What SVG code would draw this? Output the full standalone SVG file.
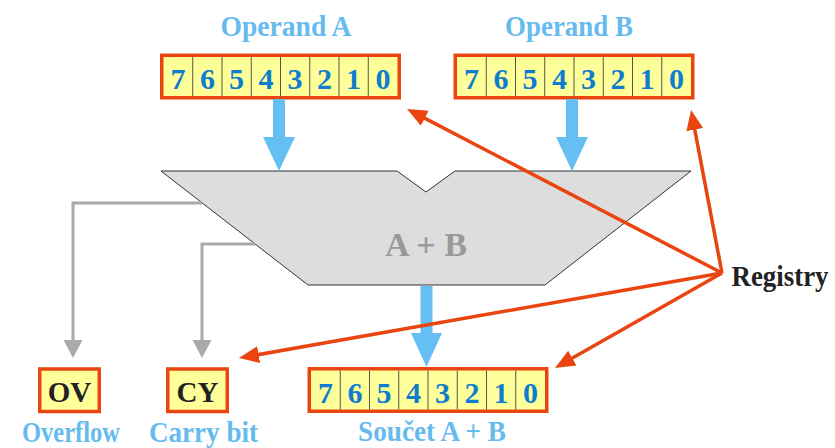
<svg xmlns="http://www.w3.org/2000/svg" width="835" height="448" viewBox="0 0 835 448">
  <style>
    .reg { fill: #FFFF99; stroke: #EA4410; stroke-width: 3.5; }
    .div { stroke: #555544; stroke-width: 1; }
    .bit { font-family: "Liberation Serif", "Times New Roman", serif; font-weight: bold; font-size: 30px; fill: #0F7DCF; text-anchor: middle; }
    .title { font-family: "Liberation Serif", "Times New Roman", serif; font-weight: bold; font-size: 29px; fill: #66BBEE; text-anchor: middle; }
    .flag { font-family: "Liberation Serif", "Times New Roman", serif; font-weight: bold; font-size: 29px; fill: #222222; text-anchor: middle; }
    .alu { fill: #DDDDDD; stroke: #333333; stroke-width: 1; }
    .alutext { font-family: "Liberation Serif", "Times New Roman", serif; font-weight: bold; font-size: 34px; fill: #999999; text-anchor: middle; }
    .bus { fill: #66BFF2; }
    .gray { fill: none; stroke: #AAAAAA; stroke-width: 3; }
    .grayhead { fill: #AAAAAA; }
    .red { stroke: #EA4410; stroke-width: 3.5; fill: none; marker-end: url(#redArrow); }
  </style>
  <defs>
    <marker id="redArrow" markerUnits="userSpaceOnUse" viewBox="0 0 20 20" markerWidth="20" markerHeight="20" refX="10" refY="10" orient="auto">
      <path d="M0,1.5 L20,10 L0,18.5 z" fill="#EA4410"/>
    </marker>
    <!-- 8-bit register: cells 7..0, 29.25 wide each -->
    <g id="bits">
      <rect class="reg" x="-1.75" y="-1.75" width="237.5" height="42.5"/>
      <g class="div">
        <line x1="29.25" y1="0" x2="29.25" y2="39"/>
        <line x1="58.5" y1="0" x2="58.5" y2="39"/>
        <line x1="87.75" y1="0" x2="87.75" y2="39"/>
        <line x1="117" y1="0" x2="117" y2="39"/>
        <line x1="146.25" y1="0" x2="146.25" y2="39"/>
        <line x1="175.5" y1="0" x2="175.5" y2="39"/>
        <line x1="204.75" y1="0" x2="204.75" y2="39"/>
      </g>
      <text class="bit" x="14.6" y="32">7</text>
      <text class="bit" x="43.9" y="32">6</text>
      <text class="bit" x="73.1" y="32">5</text>
      <text class="bit" x="102.4" y="32">4</text>
      <text class="bit" x="131.6" y="32">3</text>
      <text class="bit" x="160.9" y="32">2</text>
      <text class="bit" x="190.1" y="32">1</text>
      <text class="bit" x="219.4" y="32">0</text>
    </g>
  </defs>

  <!-- Operand A register -->
  <g id="operandA">
    <text class="title" x="286" y="36" textLength="131" lengthAdjust="spacingAndGlyphs">Operand A</text>
    <use href="#bits" x="163.5" y="57"/>
  </g>

  <!-- Operand B register -->
  <g id="operandB">
    <text class="title" x="569" y="36" textLength="128" lengthAdjust="spacingAndGlyphs">Operand B</text>
    <use href="#bits" x="457" y="57"/>
  </g>

  <!-- Adder -->
  <g id="adder">
    <polygon class="alu" points="161,171 397,171 426,192 455,171 691,171 545,285 308,285"/>
    <text class="alutext" x="426" y="256" textLength="82" lengthAdjust="spacingAndGlyphs">A + B</text>
  </g>

  <!-- Result register -->
  <g id="result">
    <use href="#bits" x="311" y="370.5"/>
    <text class="title" x="432" y="441" textLength="148" lengthAdjust="spacingAndGlyphs">Součet A + B</text>
  </g>

  <!-- Overflow flag -->
  <g id="overflow">
    <rect class="reg" x="39.75" y="369" width="59.5" height="42.5"/>
    <text class="flag" x="69.5" y="401.5">OV</text>
    <text class="title" x="71" y="441.5" textLength="98" lengthAdjust="spacingAndGlyphs">Overflow</text>
  </g>

  <!-- Carry flag -->
  <g id="carry">
    <rect class="reg" x="167.75" y="369" width="59.5" height="42.5"/>
    <text class="flag" x="197.5" y="401.5">CY</text>
    <text class="title" x="203.5" y="441.5" textLength="109" lengthAdjust="spacingAndGlyphs">Carry bit</text>
  </g>

  <!-- Label for the register pointers -->
  <g id="registry">
    <text class="flag" x="731.5" y="285.5" style="text-anchor:start" textLength="97" lengthAdjust="spacingAndGlyphs">Registry</text>
  </g>

  <g id="connectors">
    <!-- flag outputs -->
    <polyline class="gray" points="202,203 73,203 73,341"/>
    <polygon class="grayhead" points="63.5,340 82.5,340 73,358"/>
    <polyline class="gray" points="255,244 202,244 202,341"/>
    <polygon class="grayhead" points="192.5,340 211.5,340 202,358"/>

    <!-- data buses -->
    <polygon class="bus" points="273,99 285,99 285,137 295,137 279,171 263,137 273,137"/>
    <polygon class="bus" points="566,99 578,99 578,137 588,137 572,171 556,137 566,137"/>
    <polygon class="bus" points="420.5,286 432.5,286 432.5,333 442,333 426.5,367 411,333 420.5,333"/>

    <!-- register pointers -->
    <line class="red" x1="722" y1="273" x2="415.9" y2="113.6"/>
    <line class="red" x1="722" y1="273" x2="692.9" y2="119.8"/>
    <line class="red" x1="722" y1="273" x2="248.8" y2="356.3"/>
    <line class="red" x1="722" y1="273" x2="563.7" y2="363.1"/>
  </g>
</svg>
